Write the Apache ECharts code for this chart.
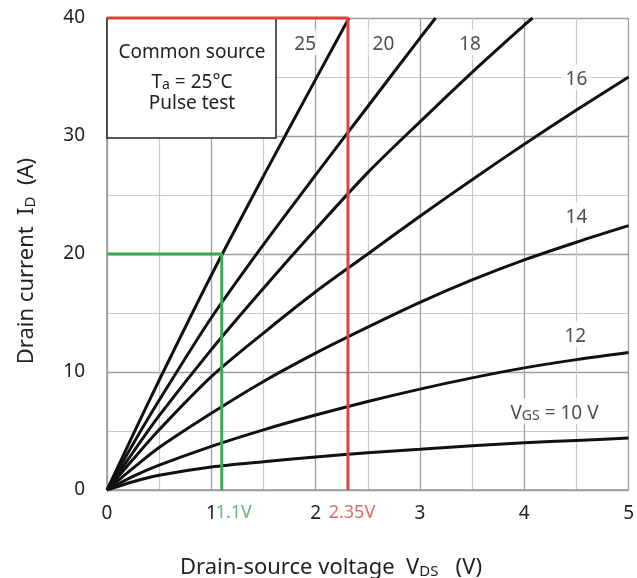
<!DOCTYPE html>
<html><head><meta charset="utf-8">
<script src="https://cdn.jsdelivr.net/npm/echarts@6/dist/echarts.min.js"></script>
<style>html,body{margin:0;padding:0;background:#fff}#c{width:637px;height:578px}</style>
</head><body><div id="c"></div>
<script>
// ---- data (V_DS in V, I_D in A) ----
const xTicks = [0, 1, 2, 3, 4, 5];
const yTicks = [0, 10, 20, 30, 40];
const curve10 = [[0,0],[0.25,0.7],[0.5,1.25],[1,1.95],[1.5,2.4],[2,2.8],[2.5,3.15],[3,3.45],[3.5,3.75],[4,4.0],[4.5,4.2],[5,4.4]];
const curve12 = [[0,0],[0.25,1.15],[0.5,2.1],[1,3.7],[1.5,5.1],[2,6.35],[2.5,7.5],[3,8.55],[3.5,9.5],[4,10.35],[4.5,11.05],[5,11.65]];
const curve14 = [[0,0],[0.25,1.85],[0.5,3.6],[1,6.5],[1.5,9.2],[2,11.6],[2.5,13.8],[3,15.9],[3.5,17.8],[4,19.5],[4.5,21.0],[5,22.4]];
const curve16 = [[0,0],[0.25,2.6],[0.5,5.1],[1,9.6],[1.5,13.3],[2,16.8],[2.5,20.0],[3,23.2],[3.5,26.3],[4,29.3],[4.5,32.2],[5,35.0]];
const curve18 = [[0,0],[0.25,3.2],[0.5,6.3],[1,11.9],[1.5,17.1],[2,22.1],[2.5,26.9],[3,31.2],[3.5,35.4],[4,39.4],[4.08,40]];
const curve20 = [[0,0],[0.25,3.9],[0.5,7.6],[1,14.6],[1.5,20.8],[2,26.7],[2.5,32.5],[3,38.3],[3.15,40]];
const curve25 = [[0,0],[0.25,4.7],[0.5,9.3],[1,18.2],[1.5,26.6],[2,34.8],[2.32,40]];
const curves = [curve10, curve12, curve14, curve16, curve18, curve20, curve25];
const vgsNames = ['10', '12', '14', '16', '18', '20', '25'];
// curve label anchors (data coords)
const labelV = [4.29, 4.49, 4.50, 4.50, 3.48, 2.65, 1.90];
const labelI = [6.7, 13.2, 23.3, 35.0, 37.95, 37.95, 37.95];
// guide lines
const greenGuide = [[0,20],[1.1,20],[1.1,0]];
const redGuide = [[0,40],[2.31,40],[2.31,0]];
const greenText = '1.1V';
const redText = '2.35V';

const FONT = 'Noto Sans';
const TXT = '#222';
const chart = echarts.init(document.getElementById('c'), null, {renderer: 'canvas'});

const series = [];
curves.forEach((c, k) => {
  series.push({type:'line', name:'VGS ' + vgsNames[k], data:c, smooth:0.3, symbol:'none', clip:true, z:3,
    lineStyle:{color:'#111', width:3}, animation:false});
});
series.push({type:'line', data: redGuide, symbol:'none', clip:false, z:6,
  lineStyle:{color:'#d9463a', width:3}, silent:true, animation:false});
series.push({type:'line', data: greenGuide, symbol:'none', clip:false, z:6,
  lineStyle:{color:'#3ea655', width:3}, silent:true, animation:false});
const labelData = vgsNames.map((n, k) => ({value:[labelV[k], labelI[k]], name:n}));
series.push({type:'scatter', data: labelData, symbolSize:0, z:5, animation:false,
  label:{show:true, position:'inside', fontFamily:FONT, fontSize:19, color:TXT,
    backgroundColor:'#fff', padding:[1,4],
    formatter: p => p.name === '10' ? '{n|V}{s|GS}{n| = 10 V}' : '{n|' + p.name + '}',
    rich:{n:{fontFamily:FONT, fontSize:19, color:TXT, lineHeight:24, verticalAlign:'bottom'},
          s:{fontFamily:FONT, fontSize:14, color:TXT, lineHeight:10, verticalAlign:'bottom'}}}});
series.push({type:'scatter', data:[{value:[1.1,0], name:greenText}], symbolSize:0, z:5, animation:false,
  label:{show:true, position:'inside', offset:[12,23], formatter:'{b}', fontFamily:FONT, fontSize:18, color:'#3ea655'}});
series.push({type:'scatter', data:[{value:[2.31,0], name:redText}], symbolSize:0, z:5, animation:false,
  label:{show:true, position:'inside', offset:[4,23], formatter:'{b}', fontFamily:FONT, fontSize:18, color:'#d9463a'}});

const option = {
  backgroundColor:'#fff',
  animation:false,
  grid:{left:107, right:6, top:18, bottom:88},
  xAxis:{type:'value', min:xTicks[0], max:xTicks[xTicks.length-1], interval:1,
    axisLine:{show:true, lineStyle:{color:'#9a9a9a', width:1.5}}, axisTick:{show:false},
    axisLabel:{fontFamily:FONT, fontSize:19, color:TXT, margin:14},
    splitLine:{show:true, lineStyle:{color:'#9e9e9e', width:1.3}},
    minorTick:{show:false, splitNumber:2},
    minorSplitLine:{show:true, lineStyle:{color:'#c8c8c8', width:1.2}}},
  yAxis:{type:'value', min:yTicks[0], max:yTicks[yTicks.length-1], interval:10,
    axisLine:{show:true, lineStyle:{color:'#9a9a9a', width:1.5}}, axisTick:{show:false},
    axisLabel:{fontFamily:FONT, fontSize:19, color:TXT, margin:22},
    splitLine:{show:true, lineStyle:{color:'#9e9e9e', width:1.3}},
    minorTick:{show:false, splitNumber:2},
    minorSplitLine:{show:true, lineStyle:{color:'#c8c8c8', width:1.2}}},
  series: series
};
chart.setOption(option);

const o = chart.convertToPixel({gridIndex:0}, [0, 40]);
const rich = {n:{fontFamily:FONT, fontSize:19, fill:TXT, lineHeight:24, verticalAlign:'bottom'},
              s:{fontFamily:FONT, fontSize:14, fill:TXT, lineHeight:10, verticalAlign:'bottom'}};
const richBig = {n:{fontFamily:FONT, fontSize:22, fill:TXT, lineHeight:28, verticalAlign:'bottom'},
              s:{fontFamily:FONT, fontSize:15, fill:TXT, lineHeight:11, verticalAlign:'bottom'}};
chart.setOption({graphic:[
  {type:'rect', z:4, shape:{x:o[0], y:o[1], width:169, height:120},
   style:{fill:'#fff', stroke:'#222', lineWidth:1.5}},
  {type:'text', z:5, x:o[0]+85, y:o[1]+35, style:{text:'Common source', fontFamily:FONT, fontSize:19, fill:TXT, align:'center', verticalAlign:'middle'}},
  {type:'text', z:5, x:o[0]+85, y:o[1]+62, style:{text:'{n|T}{s|a}{n| = 25°C}', rich:rich, align:'center', verticalAlign:'middle'}},
  {type:'text', z:5, x:o[0]+85, y:o[1]+86, style:{text:'Pulse test', fontFamily:FONT, fontSize:19, fill:TXT, align:'center', verticalAlign:'middle'}},
  {type:'text', z:5, x:331, y:565, style:{text:'{n|Drain-source voltage  V}{s|DS}{n|   (V)}', rich:richBig, align:'center', verticalAlign:'middle'}},
  {type:'text', z:5, x:24, y:261, rotation:Math.PI/2, style:{text:'{n|Drain current  I}{s|D}{n|  (A)}', rich:richBig, align:'center', verticalAlign:'middle'}}
]});
</script></body></html>
